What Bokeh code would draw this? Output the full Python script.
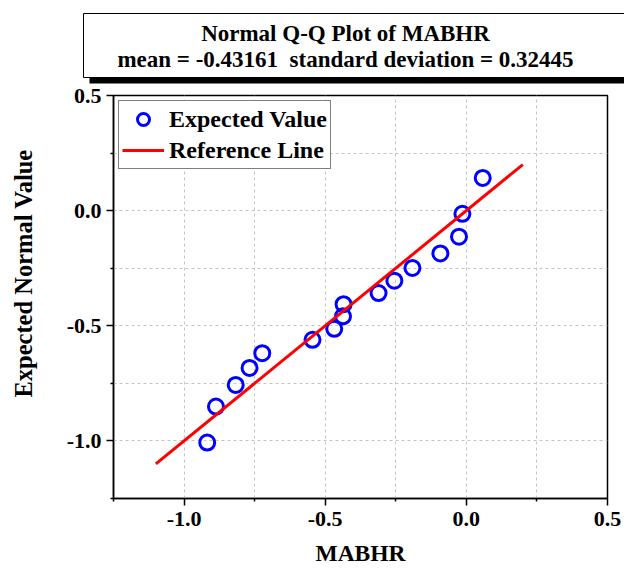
from bokeh.plotting import figure
from bokeh.models import Range1d, Legend, LegendItem, FixedTicker, NumeralTickFormatter, Title
from bokeh.embed import file_html
from bokeh.resources import INLINE
from bokeh.core.properties import value

# ---- data ----
mabhr = [-0.918, -0.887, -0.817, -0.768, -0.723, -0.545, -0.468, -0.437,
         -0.435, -0.311, -0.255, -0.191, -0.092, -0.026, -0.014, 0.058]
expected = [-1.007, -0.851, -0.757, -0.683, -0.619, -0.561, -0.513, -0.459,
            -0.406, -0.358, -0.304, -0.249, -0.186, -0.113, -0.014, 0.142]
ref_x = [-1.1, 0.2]
ref_y = [-1.1, 0.2]
major_ticks = [-1.0, -0.5, 0.0, 0.5]
minor_ticks = [-1.25, -0.75, -0.25, 0.25]
title_line1 = "Normal Q-Q Plot of MABHR"
title_line2 = "mean = -0.43161\u00a0 standard deviation = 0.32445"
x_label = "MABHR"
y_label = "Expected Normal Value"
legend_labels = ["Expected Value", "Reference Line"]

FONT = "Liberation Serif"
X0, X1 = -1.25, 0.5
Y0, Y1 = -1.25, 0.5

W = 624
TH = 84          # height of the title block
H = 568          # total height
FL, FR, FT, FB = 113, 607, 95, 499   # frame edges in page pixels

# ---- title block (its own canvas, pixel coordinates) ----
t = figure(width=W, height=TH, x_range=Range1d(0, W), y_range=Range1d(TH, 0),
           output_backend="svg", toolbar_location=None,
           x_axis_location=None, y_axis_location=None, min_border=0)
t.outline_line_color = None
t.title.visible = False
t.xgrid.visible = False
t.ygrid.visible = False
t.quad(left=[83], right=[W + 30], top=[13], bottom=[77], fill_color="white",
       line_color="black", line_width=1)
t.quad(left=[89], right=[W + 30], top=[77], bottom=[83], fill_color="black",
       line_color=None)
t.text(x=[345, 345], y=[33, 59], text=[title_line1, title_line2],
       text_font=value(FONT), text_font_style="bold", text_font_size="23px",
       text_align="center", text_baseline="alphabetic", text_color="black")

# ---- main plot ----
p = figure(width=W, height=H - TH, x_range=Range1d(X0, X1), y_range=Range1d(Y0, Y1),
           output_backend="svg", toolbar_location=None,
           min_border_left=FL, min_border_right=W - FR,
           min_border_top=FT - TH, min_border_bottom=H - FB)
p.title.visible = False
p.outline_line_color = "black"
p.outline_line_width = 1.5

for ax in (p.xaxis[0], p.yaxis[0]):
    ax.ticker = FixedTicker(ticks=major_ticks, minor_ticks=minor_ticks)
    ax.formatter = NumeralTickFormatter(format="0.0")
    ax.major_tick_out = 7
    ax.major_tick_in = 0
    ax.minor_tick_out = 3
    ax.minor_tick_in = 0
    ax.major_tick_line_color = "black"
    ax.minor_tick_line_color = "black"
    ax.major_tick_line_width = 1.5
    ax.minor_tick_line_width = 1.5
    ax.axis_line_width = 1.5
    ax.major_label_text_font = FONT
    ax.major_label_text_font_style = "bold"
    ax.major_label_text_font_size = "22px"
    ax.major_label_text_color = "black"
    ax.axis_label_text_font = FONT
    ax.axis_label_text_font_style = "bold"
    ax.axis_label_text_color = "black"

p.xaxis.axis_label = x_label
p.xaxis.axis_label_text_font_size = "23.5px"
p.xaxis.major_label_standoff = 6
p.xaxis.axis_label_standoff = 11
p.yaxis.major_label_standoff = 5
# y-axis: a blank spacer label, the real title is placed off-centre like the original
p.yaxis.axis_label = "\u00a0"
p.yaxis.axis_label_text_font_size = "1px"
p.yaxis.axis_label_standoff = 23
p.add_layout(Title(text=y_label, align="left", offset=FB - 398, vertical_align="bottom",
                   standoff=0, text_font=FONT, text_font_style="bold",
                   text_font_size="24.5px", text_color="black"), "left")

for g in (p.xgrid[0], p.ygrid[0]):
    g.grid_line_color = "#c4c4c4"
    g.grid_line_dash = "3 3"
    g.grid_line_width = 1
    g.minor_grid_line_color = "#c4c4c4"
    g.minor_grid_line_dash = "3 3"
    g.minor_grid_line_width = 1

sc = p.scatter(mabhr, expected, marker="circle", size=15, line_color="#0000ff",
               line_width=3, fill_alpha=0)
ln = p.line(ref_x, ref_y, line_color="#ff0000", line_width=3)

legend = Legend(items=[LegendItem(label=legend_labels[0], renderers=[sc]),
                       LegendItem(label=legend_labels[1], renderers=[ln])],
                location="top_left")
legend.margin = 5
legend.padding = 3
legend.spacing = 1
legend.glyph_width = 42
legend.glyph_height = 30
legend.label_height = 30
legend.label_standoff = 5
legend.label_text_font = FONT
legend.label_text_font_style = "bold"
legend.label_text_font_size = "24px"
legend.label_text_color = "black"
legend.border_line_color = "black"
legend.border_line_width = 1.5
legend.background_fill_color = "white"
legend.background_fill_alpha = 1
p.add_layout(legend)

open("out.html", "w").write(file_html([t, p], INLINE))
